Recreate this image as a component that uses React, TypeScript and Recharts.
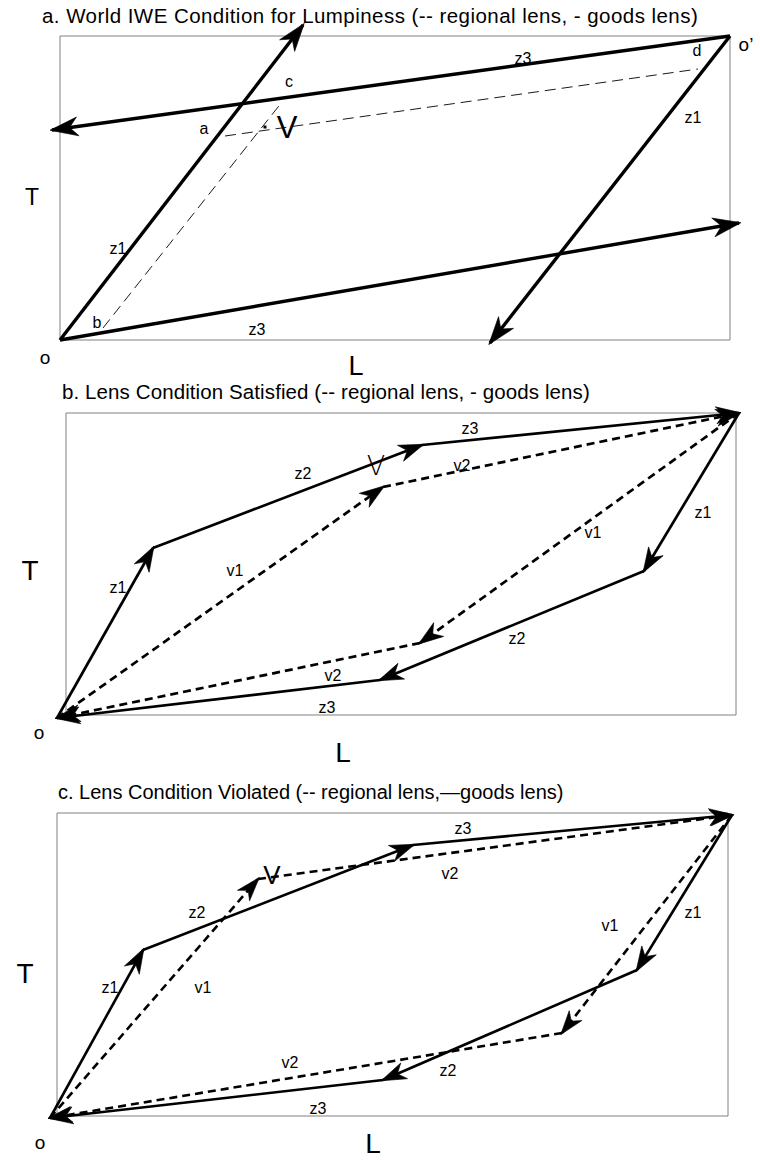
import React from 'react';
import { ScatterChart, Scatter, XAxis, YAxis, ReferenceArea } from 'recharts';

type Pt = [number, number];
type Vec = { name: string; from: Pt; to: Pt };
type Lbl = { x: number; y: number; text: string };

// ---------------- Panel a : World IWE condition ----------------
const aTitle = 'a. World IWE Condition for Lumpiness (-- regional lens, - goods lens)';
const aBoxL: Pt = [0, 670];
const aBoxT: Pt = [0, 304];
const aGoods: Vec[] = [
  { name: 'z1', from: [0, 0], to: [243, 315] },
  { name: 'z3', from: [0, 0], to: [679, 117] },
  { name: 'z3', from: [670, 304], to: [-8, 210] },
  { name: 'z1', from: [670, 304], to: [430, -3] },
];
const aRegional: Vec[] = [
  { name: 'a-d', from: [165, 204], to: [638, 271] },
  { name: 'b-c', from: [43, 12], to: [222, 238] },
];
const aVecLabels: Lbl[] = [
  { x: 58, y: 92, text: 'z1' },
  { x: 197, y: 11, text: 'z3' },
  { x: 463, y: 282, text: 'z3' },
  { x: 633, y: 223, text: 'z1' },
];
const aPointLabels: Lbl[] = [
  { x: 144, y: 212, text: 'a' },
  { x: 37, y: 18, text: 'b' },
  { x: 229, y: 259, text: 'c' },
  { x: 637, y: 290, text: 'd' },
];
const aOriginLabels: Lbl[] = [
  { x: -15, y: -17, text: 'o' },
  { x: 686, y: 296, text: 'o\u2019' },
];
const aTLabel: Lbl[] = [{ x: -28, y: 143, text: 'T' }];
const aLLabel: Lbl[] = [{ x: 296, y: -26, text: 'L' }];
const aLensLabel: Lbl[] = [{ x: 227, y: 213, text: 'V' }];
const aLensPoint: Lbl[] = [{ x: 205, y: 213, text: '' }];

// ---------------- Panel b : Lens condition satisfied ----------------
const bTitle = 'b. Lens Condition Satisfied (-- regional lens, - goods lens)';
const bBoxL: Pt = [9, 679];
const bBoxT: Pt = [3, 305];
const bGoods: Vec[] = [
  { name: 'z1', from: [0, 0], to: [96, 170] },
  { name: 'z2', from: [96, 170], to: [365, 273] },
  { name: 'z3', from: [365, 273], to: [682, 305] },
  { name: 'z1', from: [682, 305], to: [587, 147] },
  { name: 'z2', from: [587, 147], to: [323, 38] },
  { name: 'z3', from: [323, 38], to: [0, 0] },
];
const bRegional: Vec[] = [
  { name: 'v1', from: [0, 0], to: [326, 231] },
  { name: 'v2', from: [326, 231], to: [682, 305] },
  { name: 'v1', from: [682, 305], to: [363, 75] },
  { name: 'v2', from: [363, 75], to: [0, 0] },
];
const bVecLabels: Lbl[] = [
  { x: 413, y: 290, text: 'z3' },
  { x: 405, y: 253, text: 'v2' },
  { x: 246, y: 245, text: 'z2' },
  { x: 178, y: 148, text: 'v1' },
  { x: 61, y: 131, text: 'z1' },
  { x: 646, y: 206, text: 'z1' },
  { x: 536, y: 186, text: 'v1' },
  { x: 460, y: 80, text: 'z2' },
  { x: 276, y: 43, text: 'v2' },
  { x: 270, y: 11, text: 'z3' },
];
const bOriginLabels: Lbl[] = [{ x: -18, y: -14, text: 'o' }];
const bTLabel: Lbl[] = [{ x: -27, y: 148, text: 'T' }];
const bLLabel: Lbl[] = [{ x: 286, y: -34, text: 'L' }];
const bLensLabel: Lbl[] = [{ x: 319, y: 253, text: 'V' }];

// ---------------- Panel c : Lens condition violated ----------------
const cTitle = 'c. Lens Condition Violated (-- regional lens,\u2014goods lens)';
const cBoxL: Pt = [7, 678];
const cBoxT: Pt = [2, 305];
const cGoods: Vec[] = [
  { name: 'z1', from: [0, 0], to: [93, 168] },
  { name: 'z2', from: [93, 168], to: [363, 273] },
  { name: 'z3', from: [363, 273], to: [682, 303] },
  { name: 'z1', from: [682, 303], to: [587, 148] },
  { name: 'z2', from: [587, 148], to: [333, 38] },
  { name: 'z3', from: [333, 38], to: [0, 0] },
];
const cRegional: Vec[] = [
  { name: 'v1', from: [0, 0], to: [208, 239] },
  { name: 'v2', from: [208, 239], to: [682, 303] },
  { name: 'v1', from: [682, 303], to: [512, 85] },
  { name: 'v2', from: [512, 85], to: [0, 0] },
];
const cVecLabels: Lbl[] = [
  { x: 413, y: 290, text: 'z3' },
  { x: 400, y: 245, text: 'v2' },
  { x: 147, y: 206, text: 'z2' },
  { x: 60, y: 131, text: 'z1' },
  { x: 153, y: 131, text: 'v1' },
  { x: 643, y: 206, text: 'z1' },
  { x: 560, y: 193, text: 'v1' },
  { x: 398, y: 48, text: 'z2' },
  { x: 240, y: 56, text: 'v2' },
  { x: 268, y: 10, text: 'z3' },
];
const cOriginLabels: Lbl[] = [{ x: -10, y: -24, text: 'o' }];
const cTLabel: Lbl[] = [{ x: -25, y: 145, text: 'T' }];
const cLLabel: Lbl[] = [{ x: 323, y: -25, text: 'L' }];
const cLensLabel: Lbl[] = [{ x: 222, y: 243, text: 'V' }];

// ---------------- rendering helpers ----------------
const W = 760;
const FONT = '"Liberation Sans", Arial, Helvetica, sans-serif';

type Frame = { top: number; height: number; ox: number; oy: number };
type LineStyle = { width: number; dash?: string; head: boolean; len: number; wid: number };
type TextStyle = { fontSize: number; fontWeight?: number; fontFamily?: string };

const toPts = (v: Vec) => [
  { x: v.from[0], y: v.from[1], head: false },
  { x: v.to[0], y: v.to[1], head: true, dx: v.to[0] - v.from[0], dy: v.to[1] - v.from[1] },
];

const arrowShape = (st: LineStyle) => (props: any) => {
  const { cx, cy, payload } = props;
  if (!st.head || !payload || !payload.head || cx == null) return <g />;
  const ang = (Math.atan2(-payload.dy, payload.dx) * 180) / Math.PI;
  const L = st.len;
  const H = st.wid / 2;
  return (
    <path
      d={`M2,0 L${-L},${-H} L${-L * 0.68},0 L${-L},${H} Z`}
      transform={`translate(${cx},${cy}) rotate(${ang})`}
      fill="#000"
      stroke="#000"
      strokeWidth={0.6}
    />
  );
};

const textShape = (st: TextStyle) => (props: any) => {
  const { cx, cy, payload } = props;
  return (
    <text
      x={cx}
      y={cy}
      textAnchor="middle"
      dominantBaseline="central"
      fontFamily={st.fontFamily || FONT}
      fontSize={st.fontSize}
      fontWeight={st.fontWeight || 400}
      fill="#000"
    >
      {payload.text}
    </text>
  );
};

const dotShape = (props: any) => {
  const { cx, cy } = props;
  return <rect x={cx - 1.5} y={cy - 1.5} width={3} height={3} fill="#000" />;
};

type PanelProps = {
  frame: Frame;
  boxL: Pt;
  boxT: Pt;
  goods: Vec[];
  regional: Vec[];
  goodsStyle: LineStyle;
  regionalStyle: LineStyle;
  texts: { data: Lbl[]; style: TextStyle }[];
  dots?: Lbl[];
};

function Panel({ frame, boxL, boxT, goods, regional, goodsStyle, regionalStyle, texts, dots }: PanelProps) {
  const xDom = [-frame.ox, W - frame.ox];
  const yDom = [frame.oy - frame.top - frame.height, frame.oy - frame.top];
  return (
    <div style={{ position: 'absolute', left: 0, top: frame.top }}>
      <ScatterChart width={W} height={frame.height} margin={{ top: 0, right: 0, bottom: 0, left: 0 }}>
        <XAxis type="number" dataKey="x" domain={xDom} allowDataOverflow hide />
        <YAxis type="number" dataKey="y" domain={yDom} allowDataOverflow hide />
        <ReferenceArea
          x1={boxL[0]}
          x2={boxL[1]}
          y1={boxT[0]}
          y2={boxT[1]}
          fill="#fff"
          fillOpacity={0}
          stroke="#808080"
          strokeWidth={1}
        />
        {regional.map((v, i) => (
          <Scatter
            key={'r' + i}
            name={v.name}
            data={toPts(v)}
            line={{ stroke: '#000', strokeWidth: regionalStyle.width, strokeDasharray: regionalStyle.dash }}
            lineType="joint"
            shape={arrowShape(regionalStyle)}
            isAnimationActive={false}
          />
        ))}
        {goods.map((v, i) => (
          <Scatter
            key={'g' + i}
            name={v.name}
            data={toPts(v)}
            line={{ stroke: '#000', strokeWidth: goodsStyle.width }}
            lineType="joint"
            shape={arrowShape(goodsStyle)}
            isAnimationActive={false}
          />
        ))}
        {dots ? <Scatter data={dots} shape={dotShape} isAnimationActive={false} /> : null}
        {texts.map((t, i) => (
          <Scatter key={'t' + i} data={t.data} shape={textShape(t.style)} isAnimationActive={false} />
        ))}
      </ScatterChart>
    </div>
  );
}

const titleStyle = (left: number, top: number, size: number, ls: number): React.CSSProperties => ({
  position: 'absolute',
  left,
  top,
  fontFamily: FONT,
  fontSize: size,
  lineHeight: 1,
  letterSpacing: ls,
  whiteSpace: 'nowrap',
  color: '#000',
});

export default function App() {
  const smallA = { fontSize: 16 };
  const smallB = { fontSize: 16 };
  return (
    <div style={{ position: 'absolute', left: 0, top: 0, width: W, height: 1160, background: '#fff', overflow: 'hidden' }}>
      <Panel
        frame={{ top: 0, height: 385, ox: 60, oy: 340 }}
        boxL={aBoxL}
        boxT={aBoxT}
        goods={aGoods}
        regional={aRegional}
        goodsStyle={{ width: 3.4, head: true, len: 26, wid: 19 }}
        regionalStyle={{ width: 0.9, dash: '11 6', head: false, len: 0, wid: 0 }}
        texts={[
          { data: aVecLabels, style: smallA },
          { data: aPointLabels, style: smallA },
          { data: aOriginLabels, style: { fontSize: 19 } },
          { data: aTLabel, style: { fontSize: 23 } },
          { data: aLLabel, style: { fontSize: 27 } },
          { data: aLensLabel, style: { fontSize: 31 } },
        ]}
        dots={aLensPoint}
      />
      <Panel
        frame={{ top: 370, height: 400, ox: 57, oy: 718 }}
        boxL={bBoxL}
        boxT={bBoxT}
        goods={bGoods}
        regional={bRegional}
        goodsStyle={{ width: 2.7, head: true, len: 23, wid: 17 }}
        regionalStyle={{ width: 2.7, dash: '8 5', head: true, len: 23, wid: 17 }}
        texts={[
          { data: bVecLabels, style: smallB },
          { data: bOriginLabels, style: { fontSize: 19 } },
          { data: bTLabel, style: { fontSize: 28 } },
          { data: bLLabel, style: { fontSize: 28 } },
          { data: bLensLabel, style: { fontSize: 27, fontWeight: 200, fontFamily: '"DejaVu Sans", sans-serif' } },
        ]}
      />
      <Panel
        frame={{ top: 765, height: 395, ox: 50, oy: 1118 }}
        boxL={cBoxL}
        boxT={cBoxT}
        goods={cGoods}
        regional={cRegional}
        goodsStyle={{ width: 2.6, head: true, len: 23, wid: 17 }}
        regionalStyle={{ width: 2.6, dash: '8 5', head: true, len: 22, wid: 16 }}
        texts={[
          { data: cVecLabels, style: smallB },
          { data: cOriginLabels, style: { fontSize: 19 } },
          { data: cTLabel, style: { fontSize: 28 } },
          { data: cLLabel, style: { fontSize: 28 } },
          { data: cLensLabel, style: { fontSize: 26 } },
        ]}
      />
      <div style={titleStyle(42, 6, 20.5, 0.45)}>{aTitle}</div>
      <div style={titleStyle(62, 382, 20.5, 0.1)}>{bTitle}</div>
      <div style={titleStyle(58, 782, 20, 0)}>{cTitle}</div>
    </div>
  );
}
